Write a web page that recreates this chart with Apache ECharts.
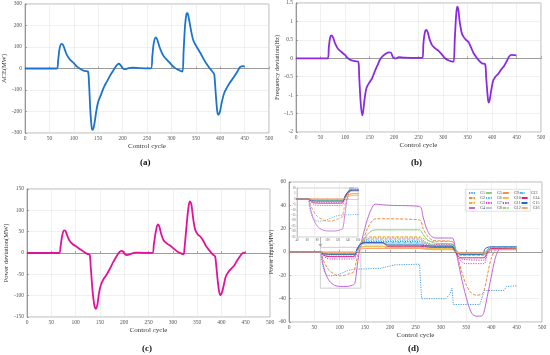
<!DOCTYPE html>
<html><head><meta charset="utf-8">
<script src="https://cdn.jsdelivr.net/npm/echarts@6/dist/echarts.min.js"></script>
<style>html,body{margin:0;padding:0;background:#fff}#c{width:550px;height:355px}</style>
</head><body><div id="c"></div>
<script>
// ---------- DATA ----------
const aceData = [[0,0],[65,0],[68,40],[71,95],[75,115],[78,110],[82,85],[86,62],[92,42],[100,25],[106,10],[112,0],[118,-8],[124,-12],[129,-14],[131,-60],[134,-200],[137,-280],[139,-285],[142,-260],[146,-200],[150,-155],[156,-120],[162,-85],[168,-60],[175,-30],[182,-5],[188,15],[192,22],[195,18],[199,5],[203,-3],[207,-3],[212,2],[220,4],[235,2],[258,1],[261,60],[264,120],[268,145],[271,135],[275,105],[280,75],[285,55],[292,38],[300,18],[307,3],[314,-6],[320,-12],[323,-14],[325,80],[328,200],[331,255],[333,258],[336,230],[340,180],[345,130],[352,100],[360,70],[367,40],[374,15],[380,-3],[386,-20],[388,-30],[391,-120],[394,-200],[396,-215],[399,-205],[403,-160],[408,-115],[414,-88],[420,-65],[428,-40],[435,-15],[440,5],[444,10],[450,11]];
const freqData = [[0,0],[65,0],[67,0.3],[70,0.58],[73,0.62],[76,0.55],[80,0.4],[86,0.25],[93,0.17],[100,0.09],[106,0],[112,-0.05],[120,-0.08],[127,-0.09],[129,-0.5],[132,-1.2],[135,-1.55],[137,-1.45],[140,-1.1],[144,-0.8],[150,-0.65],[155,-0.55],[160,-0.38],[166,-0.2],[172,-0.02],[178,0.07],[184,0.13],[190,0.16],[194,0.15],[197,0.05],[200,0],[204,0],[210,0.03],[220,0.02],[240,0.01],[258,0.01],[260,0.4],[263,0.7],[266,0.77],[269,0.7],[273,0.5],[278,0.35],[284,0.27],[291,0.2],[298,0.1],[304,0],[312,-0.06],[320,-0.09],[322,-0.09],[324,0.5],[327,1.2],[329,1.4],[331,1.35],[334,1.0],[338,0.7],[342,0.58],[347,0.5],[352,0.44],[357,0.3],[362,0.15],[368,0.03],[374,-0.07],[380,-0.14],[386,-0.16],[388,-0.5],[391,-1.0],[393,-1.2],[395,-1.15],[398,-0.9],[402,-0.62],[407,-0.5],[413,-0.42],[419,-0.3],[425,-0.2],[430,-0.08],[435,0.05],[440,0.09],[450,0.08]];
const powerDevData = [[0,0],[66,0],[69,15],[72,38],[76,53],[79,52],[83,40],[88,28],[95,20],[103,14],[110,8],[117,3],[124,-2],[129,-4],[131,-30],[135,-90],[139,-125],[142,-131],[145,-120],[148,-95],[152,-75],[157,-62],[163,-52],[170,-38],[177,-22],[184,-8],[190,2],[194,5],[197,4],[201,-2],[205,-5],[210,-4],[216,-1],[222,1],[240,0.5],[258,0.5],[261,20],[265,50],[269,67],[272,63],[276,45],[281,30],[288,22],[295,17],[302,10],[310,3],[317,-1],[322,-3],[324,10],[328,60],[332,105],[335,121],[338,115],[342,80],[346,55],[351,44],[357,38],[363,28],[369,15],[376,5],[382,-3],[387,-8],[389,-25],[392,-60],[395,-88],[398,-99],[401,-93],[405,-75],[409,-55],[414,-45],[420,-37],[426,-30],[432,-18],[438,-8],[443,-1],[447,1],[450,1]];

const G1 = [[0,0],[62,0],[66,-10],[70,-17],[75,-20],[85,-20.5],[95,-20],[105,-18],[115,-16],[125,-15],[135,-14.7],[180,-14],[190,-13],[200,-12],[210,-11],[258,-10.5],[262,-40],[310,-40],[318,-36],[322,-31],[325,-45],[377,-45],[381,-40],[386,-33],[425,-33],[430,-29.5],[450,-29]];
const G2 = [[0,0],[62,0],[66,-5],[72,-11],[80,-16],[90,-19],[100,-20.5],[110,-20],[120,-18.5],[128,-17],[133,-8],[138,0],[145,8],[155,20],[165,27],[172,28.5],[258,27.5],[265,20],[275,13],[285,10],[322,9],[330,0],[340,-15],[350,-28],[360,-35],[370,-37],[380,-36.5],[385,-34],[392,-20],[400,-5],[410,2],[450,3]];
const G3 = [[0,0],[62,0],[70,-1.5],[78,-2],[130,-2],[135,2],[142,8],[150,12],[160,13],[258,13],[268,11],[285,9],[322,9],[330,1],[340,-3],[385,-3],[392,1],[400,3],[450,3]];
const G4 = [[0,0],[62,0],[66,-8],[72,-18],[80,-25],[90,-28.5],[100,-29.5],[115,-29.5],[125,-28.5],[130,-27],[134,-15],[138,-2],[145,12],[155,28],[163,37],[170,41],[185,40.5],[200,40],[258,39],[265,30],[272,20],[280,14],[290,12],[322,12],[328,5],[335,-10],[345,-30],[355,-46],[362,-53],[370,-55],[380,-55],[385,-52],[390,-42],[398,-25],[405,-10],[412,0],[420,3],[450,3]];
const G5 = [[0,0],[62,0],[70,-1.5],[78,-2],[130,-2],[135,1],[145,8],[155,15],[165,18.5],[175,19],[258,19],[265,15],[275,10],[290,7.5],[322,7],[330,2],[340,-1.5],[385,-2],[392,1],[400,3],[450,3]];
const G6 = [[0,0],[62,0],[70,-0.8],[78,-1],[130,-1],[135,3],[142,8],[150,10],[258,10],[268,8],[285,6],[322,6],[330,1],[340,-2],[385,-2],[392,2],[400,3],[450,3]];
const G7 = [[0,0],[62,0],[68,-3],[75,-5.5],[85,-6],[128,-6],[133,-2],[140,5],[150,10],[160,12],[258,12],[268,9],[285,6.5],[322,6.5],[330,-1],[340,-8],[350,-10],[385,-10],[392,-2],[400,2],[450,2.5]];
const G8 = [[0,0],[62,0],[70,-0.8],[78,-1],[130,-1],[135,3],[142,6],[150,7],[258,7],[268,5],[285,4],[322,4],[330,0],[340,-2],[385,-2],[392,2],[400,4],[450,4]];
const G9 = [[0,0],[130,0],[135,2],[142,4],[150,5],[185,5],[195,3.5],[258,3.5],[268,3],[285,2.5],[322,2.5],[330,0],[340,-1],[385,-1],[392,1],[400,3],[450,3]];
const G10 = [[0,0],[62,0],[70,-0.8],[78,-1],[130,-1],[135,2],[142,4],[150,4.5],[258,4.5],[268,3.5],[285,3],[322,3],[330,0],[340,-2],[385,-2],[392,1],[400,3],[450,3.5]];
const G11 = [[0,0],[62,0],[68,-2],[75,-3.2],[85,-3.5],[128,-3.5],[133,0],[140,6],[150,9],[258,9],[268,7],[285,5],[322,5],[330,-1],[340,-6],[385,-7],[392,-1],[400,2],[450,2]];
const G12 = [[0,0],[62,0],[70,-1.2],[78,-1.5],[130,-1.5],[135,2],[142,8],[150,10.5],[160,11],[258,11],[268,8],[285,6],[322,6],[330,1],[340,-3],[385,-3],[392,1],[400,3],[450,3]];
const G13 = [[0,0],[62,0],[70,-0.8],[78,-1],[130,-1],[135,3],[142,7],[150,8],[258,8],[268,6],[285,5],[322,5],[330,0],[340,-2],[385,-2],[392,2],[400,4],[450,4]];
const G14 = [[0,0],[62,0],[68,-2.5],[75,-3.8],[85,-4],[128,-4],[133,0],[140,6],[150,8],[185,8],[195,5],[258,5],[268,4.5],[285,4],[322,4],[330,-1],[340,-5],[385,-5],[392,0],[400,3],[450,2.5]];
const G15 = [[0,0],[62,0],[70,-1.5],[78,-2],[130,-2],[135,3],[142,7],[150,8],[185,8],[195,6],[258,6],[268,5.5],[285,5],[322,5],[330,0],[340,-2],[382,-2],[388,3],[400,4.5],[450,4.5]];
const G16 = [[0,0],[62,0],[70,-0.4],[130,-0.5],[135,1],[142,2.5],[150,3],[258,3],[268,2.5],[285,2],[322,2],[330,0],[340,-1],[385,-1],[392,1],[400,2],[450,2]];

const genNames = ['G1','G2','G3','G4','G5','G6','G7','G8','G9','G10','G11','G12','G13','G14','G15','G16'];
const genData = [G1,G2,G3,G4,G5,G6,G7,G8,G9,G10,G11,G12,G13,G14,G15,G16];
const legendRows = [['G1','G5','G9','G13'],['G2','G6','G10','G14'],['G3','G7','G11','G15'],['G4','G8','G12','G16']];
const zoomBox = [[62,4],[142,-31]];

// ---------- STYLES ----------
const genStyle = {
  G1:{c:'#4a9fe0',t:[1.2,1.2]}, G2:{c:'#f0883a',t:[3,1.5]}, G3:{c:'#edb120',t:[3,1.5]}, G4:{c:'#c266d6',t:'solid'},
  G5:{c:'#86cf78',t:'solid'}, G6:{c:'#45c0e8',t:[1.2,1.2]}, G7:{c:'#e03cd8',t:[1.2,1.2]}, G8:{c:'#a8cbe8',t:'solid'},
  G9:{c:'#f5904a',t:'solid'}, G10:{c:'#f0c040',t:'solid'}, G11:{c:'#a050d0',t:[1.2,1.2]}, G12:{c:'#9ad07a',t:[3,1.5]},
  G13:{c:'#50b8e6',t:[3,1,1,1]}, G14:{c:'#e4207a',t:'solid'}, G15:{c:'#1f6fbf',t:'solid'}, G16:{c:'#f7a878',t:'solid'}
};
const FF = 'Liberation Serif';
const grids = [
  {left:25, top:4, width:244, height:129},
  {left:296, top:3, width:245, height:129},
  {left:27, top:189, width:243, height:128},
  {left:289, top:182, width:253, height:140},
  {left:297, top:188, width:61, height:49, backgroundColor:'#fff', borderColor:'#bbb'}
];
function xAx(gi, extra){
  return Object.assign({type:'value', gridIndex:gi, min:0, max:500, interval:50,
    name:'Control cycle', nameLocation:'middle', nameGap:9,
    nameTextStyle:{fontFamily:FF, fontSize:7, color:'#333'},
    axisLabel:{fontFamily:FF, fontSize:5.5, color:'#555', margin:3},
    axisLine:{lineStyle:{color:'#777', width:0.7}},
    axisTick:{inside:true, length:2, lineStyle:{color:'#777', width:0.6}},
    splitLine:{show:true, lineStyle:{color:'#e6e6e6', width:0.6}}}, extra||{});
}
function yAx(gi, name, min, max, interval, gap, extra){
  return Object.assign({type:'value', gridIndex:gi, min:min, max:max, interval:interval,
    name:name, nameLocation:'middle', nameRotate:90, nameGap:gap,
    nameTextStyle:{fontFamily:FF, fontSize:6.5, color:'#333'},
    axisLabel:{fontFamily:FF, fontSize:5.5, color:'#555', margin:3},
    axisLine:{show:true, lineStyle:{color:'#777', width:0.7}},
    axisTick:{show:true, inside:true, length:2, lineStyle:{color:'#777', width:0.6}},
    splitLine:{show:true, lineStyle:{color:'#e6e6e6', width:0.6}}}, extra||{});
}
const gridOpts = grids.map(g => Object.assign({show:true, borderColor:'#999', borderWidth:0.7, containLabel:false}, g));

const xAxes = [xAx(0), xAx(1), xAx(2), xAx(3),
  xAx(4,{min:40,max:160,interval:20,name:'',axisLabel:{fontFamily:FF,fontSize:3,color:'#666',margin:1.5},axisTick:{inside:true,length:1,lineStyle:{color:'#999',width:0.5}},splitLine:{show:false},axisLine:{lineStyle:{color:'#aaa',width:0.5}}})];
const yAxes = [yAx(0,'ACE(MW)',-300,300,100,13), yAx(1,'Frequency deviation(Hz)',-2,1.5,0.5,11),
  yAx(2,'Power deviation(MW)',-150,150,50,14), yAx(3,'Power Input(MW)',-60,60,20,12,{nameTextStyle:{fontFamily:FF,fontSize:6,color:'#333'}}),
  yAx(4,'',-35,10,5,0,{axisLabel:{fontFamily:FF,fontSize:3,color:'#666',margin:1.5},axisTick:{inside:true,length:1,lineStyle:{color:'#999',width:0.5}},splitLine:{show:false},axisLine:{show:true,lineStyle:{color:'#aaa',width:0.5}}})];

const series = [
  {type:'line', name:'ACE', xAxisIndex:0, yAxisIndex:0, data:aceData, showSymbol:false, smooth:0.3, lineStyle:{color:'#1a74cc', width:1.8}, itemStyle:{color:'#1a74cc'}},
  {type:'line', name:'Freq', xAxisIndex:1, yAxisIndex:1, data:freqData, showSymbol:false, smooth:0.3, lineStyle:{color:'#8a2be2', width:1.8}, itemStyle:{color:'#8a2be2'}},
  {type:'line', name:'Pdev', xAxisIndex:2, yAxisIndex:2, data:powerDevData, showSymbol:false, smooth:0.3, lineStyle:{color:'#e0129a', width:1.8}, itemStyle:{color:'#e0129a'}}
];
genNames.forEach((n,i) => {
  const st = genStyle[n];
  const base = {type:'line', name:n, data:genData[i], showSymbol:false, symbol:'none',
    smooth: n==='G1' ? false : 0.3, lineStyle:{color:st.c, width:1, type:st.t}, itemStyle:{color:st.c}};
  const main = Object.assign({}, base, {xAxisIndex:3, yAxisIndex:3});
  if (i===0){
    main.markArea = {silent:true, itemStyle:{color:'rgba(0,0,0,0)', borderColor:'#c8c8c8', borderWidth:0.9},
      data:[[{coord:zoomBox[0]},{coord:zoomBox[1]}]]};
    main.markLine = {silent:true, symbol:['none','arrow'], symbolSize:3, label:{show:false},
      lineStyle:{color:'#999', width:0.7, type:'solid'},
      data:[[{coord:[62,12.8]},{coord:[62,4.5]}]]};
  }
  series.push(main);
  series.push(Object.assign({}, base, {xAxisIndex:4, yAxisIndex:4, z:5, lineStyle:{color:st.c, width:0.8, type:st.t}}));
});

const legends = legendRows.map((row, r) => ({
  data: row, left: 468, top: 191 + r*5, orient:'horizontal',
  itemWidth:6, itemHeight:2, itemGap:0, padding:0,
  textStyle:{fontFamily:FF, fontSize:4, color:'#444', width:6.5}
}));

const option = {
  animation:false,
  backgroundColor:'#fff',
  textStyle:{fontFamily:FF},
  grid: gridOpts,
  xAxis: xAxes,
  yAxis: yAxes,
  legend: legends,
  graphic: [
    {type:'rect', left:465, top:189, z:-1, shape:{width:65, height:22}, style:{fill:'#fff', stroke:'#ccc', lineWidth:0.6}},
    {type:'text', left:140, top:158, style:{text:'(a)', font:'bold 9px "Liberation Serif"', fill:'#111'}},
    {type:'text', left:411, top:158, style:{text:'(b)', font:'bold 9px "Liberation Serif"', fill:'#111'}},
    {type:'text', left:142, top:344, style:{text:'(c)', font:'bold 9px "Liberation Serif"', fill:'#111'}},
    {type:'text', left:408, top:344, style:{text:'(d)', font:'bold 9px "Liberation Serif"', fill:'#111'}}
  ],
  series: series
};
const chart = echarts.init(document.getElementById('c'), null, {renderer:'canvas'});
chart.setOption(option);
</script></body></html>
